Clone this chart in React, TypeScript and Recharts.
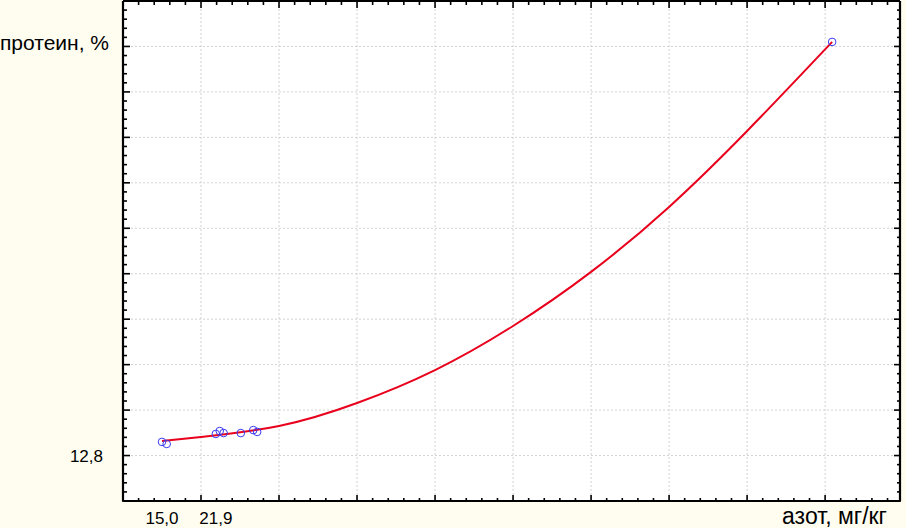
import React from 'react';
import { ComposedChart, XAxis, YAxis, CartesianGrid, Line, Scatter, Label } from 'recharts';

// ---- data ----
const pointsX = [15.0, 15.6, 21.9, 22.4, 22.9, 25.1, 26.7, 27.2, 100.9];
const pointsY = [12.86, 12.851, 12.895, 12.908, 12.899, 12.899, 12.912, 12.904, 14.62];

const curveX = [15.0, 20, 30, 40, 50, 60, 70, 80, 90, 100.9];
const curveY = [12.864, 12.882, 12.93, 13.031, 13.176, 13.37, 13.608, 13.894, 14.228, 14.62];

const xLabelTicks = [15.0, 21.9];
const yLabelTicks = [12.8];
const xMajorTicks = [20, 30, 40, 50, 60, 70, 80, 90, 100];
const yMajorTicks = [12.8, 13.0, 13.2, 13.4, 13.6, 13.8, 14.0, 14.2, 14.4, 14.6];
const xMinorTicks = Array.from({ length: 50 }, (_, i) => 10 + i * 2);
const yMinorTicks = Array.from({ length: 55 }, (_, i) => Math.round((12.6 + i * 0.04) * 1000) / 1000);

const xTitle = 'азот, мг/кг';
const yTitle = 'протеин, %';

const xDomain: [number, number] = [10, 109.6];
const yDomain: [number, number] = [12.6, 14.8];

const points = pointsX.map((x, i) => ({ x, y: pointsY[i] }));
const curve = curveX.map((x, i) => ({ x, y: curveY[i] }));

const FONT = '"Liberation Sans", Arial, sans-serif';
const BG = '#FFFDF0';

const fmt = (v: number) => v.toFixed(1).replace('.', ',');
const emptyTick = () => <g />;

const isIn = (arr: number[], v: number) => arr.some((m) => Math.abs(m - v) < 1e-6);
const MAJ = 7;
const MIN = 4;
const TW = 1.6;

const bottomTick = (p: any) => {
  const len = isIn(xMajorTicks, p.payload.value) ? MAJ : MIN;
  return <line x1={p.x} x2={p.x} y1={p.y + 1} y2={p.y + 1 - len} stroke="#000" strokeWidth={TW} />;
};
const topTick = (p: any) => {
  const len = isIn(xMajorTicks, p.payload.value) ? MAJ : MIN;
  return <line x1={p.x} x2={p.x} y1={p.y} y2={p.y + len} stroke="#000" strokeWidth={TW} />;
};
const leftTick = (p: any) => {
  const len = isIn(yMajorTicks, p.payload.value) ? MAJ : MIN;
  return <line x1={p.x} x2={p.x + len} y1={p.y} y2={p.y} stroke="#000" strokeWidth={TW} />;
};
const rightTick = (p: any) => {
  const len = isIn(yMajorTicks, p.payload.value) ? MAJ : MIN;
  return <line x1={p.x + 1} x2={p.x + 1 - len} y1={p.y} y2={p.y} stroke="#000" strokeWidth={TW} />;
};

const circleShape = (props: any) => {
  const { cx, cy } = props;
  if (cx == null || cy == null) return <g />;
  return <circle cx={cx} cy={cy} r={3.8} fill="none" stroke="#3C3CF0" strokeWidth={1} />;
};

const frameLine = { stroke: '#000', strokeWidth: 2.2 };

export default function App() {
  return (
    <div style={{ position: 'absolute', left: 0, top: 0, width: 906, height: 528, background: BG }}>
      <ComposedChart width={906} height={528} margin={{ top: 1, right: 6, bottom: 0, left: 0 }}>
        <CartesianGrid xAxisId="gx" yAxisId="gy" stroke="#D2D2D2" strokeDasharray="2 2" fill="#FFFFFF" />

        {/* grid-only axes (not drawn) */}
        <XAxis xAxisId="gx" type="number" dataKey="x" domain={xDomain} allowDataOverflow ticks={xMajorTicks} interval={0}
          orientation="bottom" mirror height={0} tick={emptyTick} tickLine={false} axisLine={false} />
        <YAxis yAxisId="gy" type="number" domain={yDomain} allowDataOverflow ticks={yMajorTicks} interval={0}
          orientation="left" mirror width={0} tick={emptyTick} tickLine={false} axisLine={false} />

        {/* main labelled axes */}
        <XAxis
          xAxisId="main"
          type="number"
          dataKey="x"
          domain={xDomain}
          allowDataOverflow
          ticks={xLabelTicks}
          interval={0}
          tickFormatter={fmt}
          axisLine={false}
          tickLine={false}
          tickSize={0}
          tickMargin={11}
          height={27}
          tick={{ fill: '#000', fontSize: 17, fontFamily: FONT }}
        >
          <Label
            content={(p: any) => {
              const vb = p.viewBox || {};
              return (
                <text x={vb.x + vb.width - 13} y={vb.y + 23} textAnchor="end" fill="#000" fontSize={23} fontFamily={FONT}>
                  {xTitle}
                </text>
              );
            }}
          />
        </XAxis>
        <YAxis
          yAxisId="main"
          type="number"
          domain={yDomain}
          allowDataOverflow
          ticks={yLabelTicks}
          interval={0}
          tickFormatter={fmt}
          axisLine={false}
          tickLine={false}
          tickSize={0}
          tickMargin={20}
          width={123}
          tick={{ fill: '#000', fontSize: 17, fontFamily: FONT }}
        >
          <Label
            content={(p: any) => {
              const vb = p.viewBox || {};
              return (
                <text x={vb.x + 109} y={vb.y + 49} textAnchor="end" fill="#000" fontSize={21} fontFamily={FONT}>
                  {yTitle}
                </text>
              );
            }}
          />
        </YAxis>

        {/* frame with inward major/minor ticks */}
        <XAxis xAxisId="fb" type="number" dataKey="x" domain={xDomain} allowDataOverflow ticks={xMinorTicks} interval={0}
          orientation="bottom" mirror height={1} tick={bottomTick} tickSize={0} tickMargin={0} tickLine={false} axisLine={frameLine} />
        <XAxis xAxisId="ft" type="number" dataKey="x" domain={xDomain} allowDataOverflow ticks={xMinorTicks} interval={0}
          orientation="top" mirror height={1} tick={topTick} tickSize={0} tickMargin={0} tickLine={false} axisLine={frameLine} />
        <YAxis yAxisId="fl" type="number" domain={yDomain} allowDataOverflow ticks={yMinorTicks} interval={0}
          orientation="left" mirror width={1} tick={leftTick} tickSize={0} tickMargin={0} tickLine={false} axisLine={frameLine} />
        <YAxis yAxisId="fr" type="number" domain={yDomain} allowDataOverflow ticks={yMinorTicks} interval={0}
          orientation="right" mirror width={1} tick={rightTick} tickSize={0} tickMargin={0} tickLine={false} axisLine={frameLine} />

        <Line
          xAxisId="main"
          yAxisId="main"
          data={curve}
          dataKey="y"
          type="natural"
          stroke="#E8001C"
          strokeWidth={2}
          dot={false}
          activeDot={false}
          isAnimationActive={false}
        />
        <Scatter
          xAxisId="main"
          yAxisId="main"
          data={points}
          dataKey="y"
          shape={circleShape}
          isAnimationActive={false}
        />
      </ComposedChart>
    </div>
  );
}
